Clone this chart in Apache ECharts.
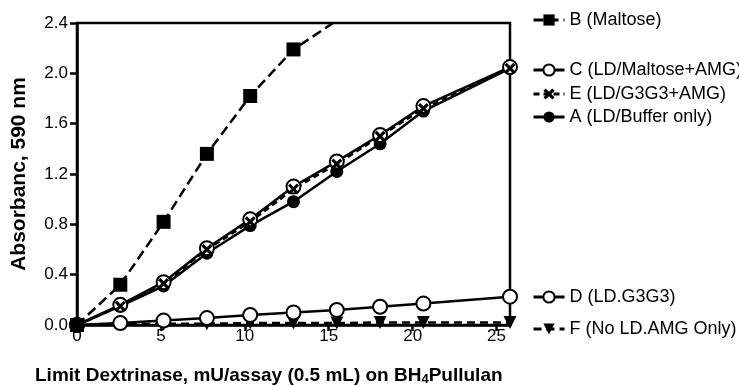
<!DOCTYPE html>
<html>
<head>
<meta charset="utf-8">
<script src="https://cdn.jsdelivr.net/npm/echarts@6/dist/echarts.min.js"></script>
<style>
  html, body { margin: 0; padding: 0; background: #fff; }
  #chart { width: 739px; height: 386px; }
</style>
</head>
<body>
<div id="chart"></div>
<script>
// LD dose (mU/assay) and absorbance readings per assay
const doses = [0, 2.58, 5.16, 7.74, 10.32, 12.9, 15.48, 18.06, 20.64, 25.8];
const bMaltose = [0, 0.32, 0.82, 1.36, 1.82, 2.19, 2.42];
const cMaltoseAmg = [0, 0.16, 0.34, 0.61, 0.84, 1.10, 1.30, 1.51, 1.74, 2.05];
const eG3g3Amg = [0, 0.15, 0.33, 0.60, 0.82, 1.08, 1.28, 1.50, 1.72, 2.04];
const aBufferOnly = [0, 0.15, 0.31, 0.57, 0.79, 0.98, 1.22, 1.44, 1.70, 2.04];
const dG3g3 = [0, 0.015, 0.035, 0.055, 0.08, 0.10, 0.12, 0.145, 0.17, 0.225];
const fAmgOnly = [0, 0.005, 0.01, 0.01, 0.015, 0.015, 0.015, 0.02, 0.02, 0.02];

const xTicks = [0, 5, 10, 15, 20, 25];
const legendOrder = ["B (Maltose)", "C (LD/Maltose+AMG)", "E (LD/G3G3+AMG)", "A (LD/Buffer only)", "D (LD.G3G3)", "F (No LD.AMG Only)"];

const FONT = "'Liberation Sans', Arial, sans-serif";
const CROSS = "path://M2,0 L5,3 L8,0 L10,2 L7,5 L10,8 L8,10 L5,7 L2,10 L0,8 L3,5 L0,2 Z";
const legendY = [18, 68, 92, 115, 295, 327];

const pairs = (ys) => ys.map((y, i) => [doses[i], y]);

function series(name, ys, opts) {
  return {
    name,
    type: "line",
    data: pairs(ys),
    clip: true,
    symbol: opts.symbol,
    symbolSize: opts.size || 13,
    symbolRotate: opts.rotate || 0,
    showAllSymbol: true,
    lineStyle: { color: "#000", width: 2.5, type: opts.dash || "solid" },
    itemStyle: opts.open
      ? { color: "#fff", borderColor: "#000", borderWidth: 2 }
      : { color: "#000", borderColor: "#000", borderWidth: 0 },
    emphasis: { disabled: true }
  };
}

const chart = echarts.init(document.getElementById("chart"));
chart.setOption({
  animation: false,
  textStyle: { fontFamily: FONT },
  grid: {
    left: 77, right: 229, top: 23, bottom: 61,
    show: true, borderColor: "#000", borderWidth: 2.5
  },
  title: {
    left: 30, top: 360,
    text: "{b|Limit Dextrinase, mU/assay (0.5 mL) on BH}{s|4}{b|Pullulan}",
    textStyle: {
      rich: {
        b: { fontFamily: FONT, fontSize: 19, fontWeight: "bold", color: "#000" },
        s: { fontFamily: FONT, fontSize: 13, fontWeight: "bold", color: "#000", padding: [8, 0, 0, 0] }
      }
    }
  },
  legend: legendOrder.map((name, i) => ({
    data: [name],
    left: 527,
    top: legendY[i] - 12,
    itemWidth: 31,
    itemHeight: 14,
    selectedMode: false,
    lineStyle: { width: 3 },
    textStyle: { fontFamily: FONT, fontSize: 18, color: "#000" }
  })),
  xAxis: {
    type: "value",
    min: 0, max: 25.8,
    splitLine: { show: false },
    axisLine: { lineStyle: { color: "#000", width: 2.5 } },
    axisTick: { length: 6, lineStyle: { color: "#000", width: 2.5 }, customValues: xTicks },
    axisLabel: { color: "#000", fontSize: 17, margin: 3, customValues: xTicks }
  },
  yAxis: {
    type: "value",
    min: 0, max: 2.4, interval: 0.4,
    name: "Absorbanc, 590 nm",
    nameLocation: "middle",
    nameGap: 47,
    nameTextStyle: { fontFamily: FONT, fontSize: 21, fontWeight: "bold", color: "#000" },
    splitLine: { show: false },
    axisLine: { lineStyle: { color: "#000", width: 2.5 } },
    axisTick: { length: 7, lineStyle: { color: "#000", width: 2.5 } },
    axisLabel: { color: "#000", fontSize: 17, margin: 9, formatter: (v) => v.toFixed(1) }
  },
  series: [
    series("F (No LD.AMG Only)", fAmgOnly, { symbol: "triangle", rotate: 180, dash: [8, 5] }),
    series("D (LD.G3G3)", dG3g3, { symbol: "circle", open: true, size: 14 }),
    series("A (LD/Buffer only)", aBufferOnly, { symbol: "circle" }),
    series("C (LD/Maltose+AMG)", cMaltoseAmg, { symbol: "circle", open: true, size: 14 }),
    series("E (LD/G3G3+AMG)", eG3g3Amg, { symbol: CROSS, size: 11, dash: [6, 4] }),
    series("B (Maltose)", bMaltose, { symbol: "rect", size: 14, dash: [10, 5] })
  ]
});
</script>
</body>
</html>
